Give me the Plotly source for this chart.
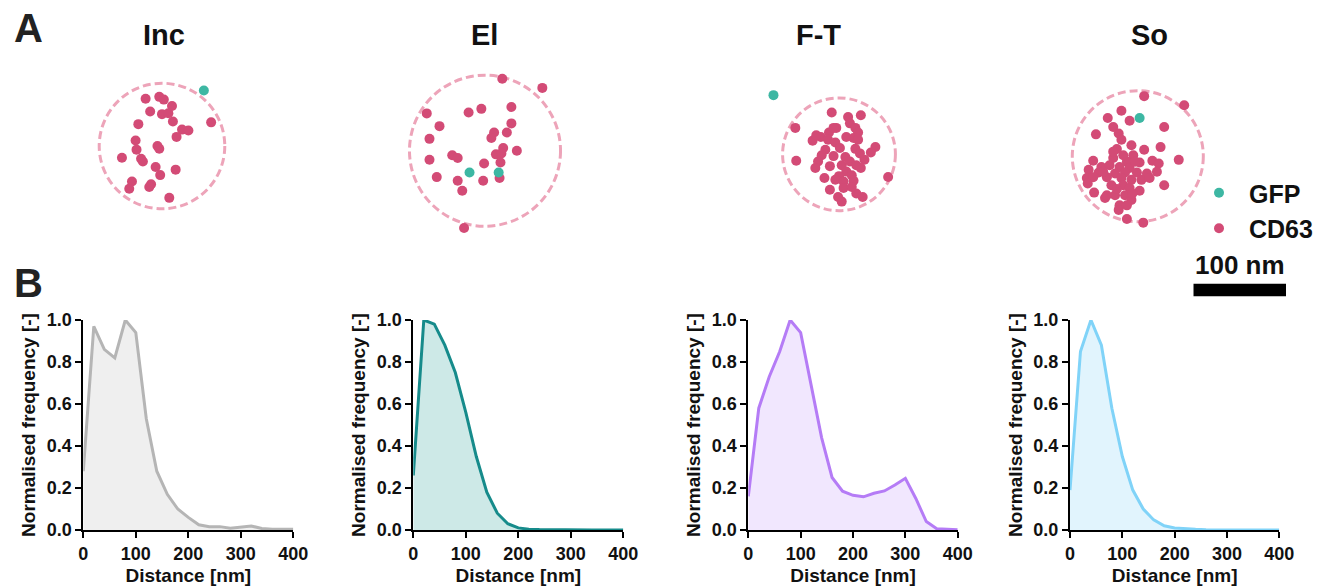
import plotly.graph_objects as go

W, H = 1322, 588
FONT = "Liberation Sans, Arial, sans-serif"

# ---------------- Panel A data (localisations, nm relative to vesicle centre) ----------------
panel_names = ["Inc", "El", "F-T", "So"]

inc_cd63_x = [-18, -3, 2, 11, -13, 0, 7, 12, -26, 54, 22, 29, 16, -29, -28, -5, -3, -44, -23, -21, -7, 15, -2, -33, -36, -12, -14, 8]
inc_cd63_y = [52, 54, 51, 44, 38, 35, 36, 27, 24, 26, 18, 17, 10, 6, -4, 0, -3, -13, -14, -17, -23, -26, -32, -39, -47, -42, -45, -57]
inc_gfp_x = [46]
inc_gfp_y = [61]

el_cd63_x = [19, 63, -64, -18, -4, 29, -50, 29, 10, 7, 24, -61, 20, 35, 12, 18, -36, -30, -61, -1, 17, -53, -30, -2, 16, -25, -23]
el_cd63_y = [79, 69, 41, 42, 46, 48, 27, 30, 20, 14, 20, 13, 3, 0, -4, -3, -5, -8, -10, -14, -13, -29, -33, -33, -30, -44, -85]
el_gfp_x = [-17, 15]
el_gfp_y = [-24, -24]

ft_cd63_x = [-8, 10, 24, -48, -3, 12, 18, 21, -11, -6, -20, -29, -25, -12, -4, 8, 16, 21, 1, -15,
             -19, 7, -6, 18, 23, 28, 40, 35, -47, -23, -26, -10, 3, 12, 19, 24, 8, 0, -16, -4,
             5, 14, 16, 54, -10, 5, -1, 19, 26, 3, 14]
ft_cd63_y = [46, 41, 43, 29, 29, 34, 29, 24, 24, 29, 19, 15, 21, 16, 13, 19, 18, 16, 7, 5,
             -1, -3, -2, 6, 1, -6, 8, 2, -7, -8, -15, -13, -12, -8, -12, -15, -19, -24, -26, -28,
             -30, -23, -29, -25, -39, -37, -47, -43, -47, -52, -36]
ft_gfp_x = [-72]
ft_gfp_y = [65]

so_cd63_x = [7, 51, -18, -9, -33, -27, 29, -46, -21, -18, -7, -23, 7, 25, 45, -5, -27, -49, -12, 2,
             16, 23, -40, -31, -20, -9, -54, -43, -25, -14, -1, 10, 21, -56, -49, -34, -18, -7, 4, 13,
             -29, -16, -9, -55, 29, -48, 2, -36, -25, -14, -7, -20, -12, -21, -12, 6, -3, -27, -16, -38,
             -23, -34, -6]
so_cd63_y = [66, 56, 50, 39, 42, 32, 32, 24, 25, 18, 12, 8, 7, 10, -4, 1, -2, -5, -6, -7,
             -5, -8, -12, -10, -12, -13, -15, -18, -19, -18, -18, -19, -17, -24, -23, -23, -24, -26, -26, -24,
             -32, -32, -35, -30, -32, -40, -38, -46, -43, -43, -48, -54, -54, -59, -69, -73, -6, 5, 1, -17,
             -36, -43, -41]
so_gfp_x = [2]
so_gfp_y = [42]

vesicle_radius_nm = [69, 83, 62, 72]
scale_bar_nm = 100

# ---------------- Panel B data (normalised distance histograms) ----------------
distance_nm = [0, 20, 40, 60, 80, 100, 120, 140, 160, 180, 200, 220, 240, 260, 280, 300, 320, 340, 360, 380, 400]
inc_freq = [0.28, 0.97, 0.86, 0.82, 1.0, 0.94, 0.53, 0.28, 0.17, 0.10, 0.06, 0.025, 0.016, 0.016, 0.008, 0.013, 0.019, 0.007, 0.003, 0.003, 0.003]
el_freq = [0.26, 1.0, 0.98, 0.88, 0.75, 0.56, 0.35, 0.18, 0.08, 0.03, 0.01, 0.004, 0.002, 0.001, 0.001, 0.0, 0.0, 0.0, 0.0, 0.0, 0.0]
ft_freq = [0.16, 0.58, 0.73, 0.85, 1.0, 0.94, 0.69, 0.44, 0.25, 0.185, 0.165, 0.158, 0.175, 0.186, 0.214, 0.246, 0.15, 0.04, 0.006, 0.003, 0.001]
so_freq = [0.19, 0.85, 1.0, 0.88, 0.58, 0.35, 0.19, 0.10, 0.048, 0.02, 0.01, 0.005, 0.003, 0.001, 0.0, 0.0, 0.0, 0.0, 0.0, 0.0, 0.0]
x_ticks = [0, 100, 200, 300, 400]
y_ticks = [0.0, 0.2, 0.4, 0.6, 0.8, 1.0]

cd63 = [(inc_cd63_x, inc_cd63_y), (el_cd63_x, el_cd63_y), (ft_cd63_x, ft_cd63_y), (so_cd63_x, so_cd63_y)]
gfp = [(inc_gfp_x, inc_gfp_y), (el_gfp_x, el_gfp_y), (ft_gfp_x, ft_gfp_y), (so_gfp_x, so_gfp_y)]
freqs = [inc_freq, el_freq, ft_freq, so_freq]

CD63_COLOR = "#d34b76"
GFP_COLOR = "#3db7a3"
CIRCLE_COLOR = "#eda4b9"
line_colors = ["#b5b5b5", "#168b8b", "#b57cf6", "#80d3f8"]
fill_colors = ["#efefef", "#cde9e7", "#f1e7fe", "#e1f4fd"]

# ---------------- layout geometry (pixels) ----------------
PX_PER_NM = 0.91
RX, RY = 100, 95
top_centres = [(162, 146), (485, 150.7), (839, 154.3), (1137.8, 156.2)]
title_x = [164, 484, 818, 1149]
bottom_x = [(83.3, 293.3), (413.3, 623.3), (748.3, 957.7), (1070, 1279.3)]
bottom_y = (320, 530)


def dx(a, b):
    return [a / W, b / W]


def dy(top, bottom):
    return [1 - bottom / H, 1 - top / H]


fig = go.Figure()
layout = dict(
    width=W, height=H,
    margin=dict(l=0, r=0, t=0, b=0, autoexpand=False),
    paper_bgcolor="white", plot_bgcolor="rgba(0,0,0,0)",
    font=dict(family=FONT, color="black"),
    showlegend=True,
)
shapes = []
annotations = []

hidden = dict(visible=False, showgrid=False, zeroline=False, fixedrange=True, automargin=False)

for i in range(4):
    k = i + 1
    cx, cy = top_centres[i]
    hw, hh = RX * PX_PER_NM, RY * PX_PER_NM
    layout[f"xaxis{k}"] = dict(hidden, domain=dx(cx - hw, cx + hw), range=[-RX, RX], anchor=f"y{k}")
    layout[f"yaxis{k}"] = dict(hidden, domain=dy(cy - hh, cy + hh), range=[-RY, RY], anchor=f"x{k}")
    r = vesicle_radius_nm[i]
    shapes.append(dict(type="circle", xref=f"x{k}", yref=f"y{k}", x0=-r, x1=r, y0=-r, y1=r,
                       layer="below", line=dict(color=CIRCLE_COLOR, width=3, dash="8px,4px")))
    fig.add_trace(go.Scatter(x=cd63[i][0], y=cd63[i][1], mode="markers", xaxis=f"x{k}", yaxis=f"y{k}",
                             marker=dict(size=10, color=CD63_COLOR), name="CD63", legendrank=2,
                             showlegend=(i == 0), cliponaxis=False, hoverinfo="skip"))
    fig.add_trace(go.Scatter(x=gfp[i][0], y=gfp[i][1], mode="markers", xaxis=f"x{k}", yaxis=f"y{k}",
                             marker=dict(size=10, color=GFP_COLOR), name="GFP", legendrank=1,
                             showlegend=(i == 0), cliponaxis=False, hoverinfo="skip"))
    annotations.append(dict(text=f"<b>{panel_names[i]}</b>", x=title_x[i] / W, y=1 - 35 / H,
                            xref="paper", yref="paper", showarrow=False, xanchor="center", yanchor="middle",
                            font=dict(size=29, family=FONT, color="#111")))

axis_font = dict(size=18, weight="bold", family=FONT, color="#111")
title_font = dict(size=19, weight="bold", family=FONT, color="#111")
for i in range(4):
    k = i + 5
    x0, x1 = bottom_x[i]
    common = dict(ticks="outside", ticklen=6, tickwidth=2, tickcolor="black", automargin=False,
                  showline=True, linewidth=2, linecolor="black", showgrid=False, zeroline=False,
                  tickfont=axis_font)
    layout[f"xaxis{k}"] = dict(common, domain=dx(x0, x1), range=[0, 400], anchor=f"y{k}", tickvals=x_ticks,
                               title=dict(text="Distance [nm]", standoff=6, font=title_font))
    layout[f"yaxis{k}"] = dict(common, domain=dy(*bottom_y), range=[0, 1.0], anchor=f"x{k}", tickvals=y_ticks,
                               tickformat=".1f",
                               title=dict(text="Normalised frequency [-]", standoff=6, font=title_font))
    fig.add_trace(go.Scatter(x=distance_nm, y=freqs[i], mode="lines", xaxis=f"x{k}", yaxis=f"y{k}",
                             line=dict(color=line_colors[i], width=3), fill="tozeroy",
                             fillcolor=fill_colors[i], showlegend=False, name=panel_names[i]))

# scale bar axis
layout["xaxis9"] = dict(hidden, domain=dx(1193.3, 1193.3 + scale_bar_nm * 0.927), range=[0, scale_bar_nm], anchor="y9")
layout["yaxis9"] = dict(hidden, domain=dy(279, 301), range=[-1, 1], anchor="x9")
fig.add_trace(go.Scatter(x=[0, scale_bar_nm], y=[0, 0], mode="lines", xaxis="x9", yaxis="y9",
                         line=dict(color="black", width=12.7), showlegend=False, hoverinfo="skip"))
annotations.append(dict(text=f"<b>{scale_bar_nm} nm</b>", x=1240 / W, y=1 - 265 / H, xref="paper", yref="paper",
                        showarrow=False, xanchor="center", yanchor="middle", font=dict(size=26, family=FONT, color="#111")))

annotations.append(dict(text="<b>A</b>", x=12 / W, y=1 - 28.5 / H, xref="paper", yref="paper", showarrow=False,
                        xanchor="left", yanchor="middle", font=dict(size=40, family=FONT, color="#222")))
annotations.append(dict(text="<b>B</b>", x=12 / W, y=1 - 282.5 / H, xref="paper", yref="paper", showarrow=False,
                        xanchor="left", yanchor="middle", font=dict(size=40, family=FONT, color="#222")))

layout["legend"] = dict(x=1189 / W, y=1 - 170 / H, xanchor="left", yanchor="top", itemwidth=50,
                        bgcolor="rgba(0,0,0,0)", font=dict(size=25, weight="bold", family=FONT, color="#111"),
                        traceorder="normal", tracegroupgap=3)
layout["shapes"] = shapes
layout["annotations"] = annotations
fig.update_layout(**layout)

fig.write_html("out.html", config={"displayModeBar": False},
               post_script="document.body.style.margin='0';document.body.style.overflow='hidden';")
